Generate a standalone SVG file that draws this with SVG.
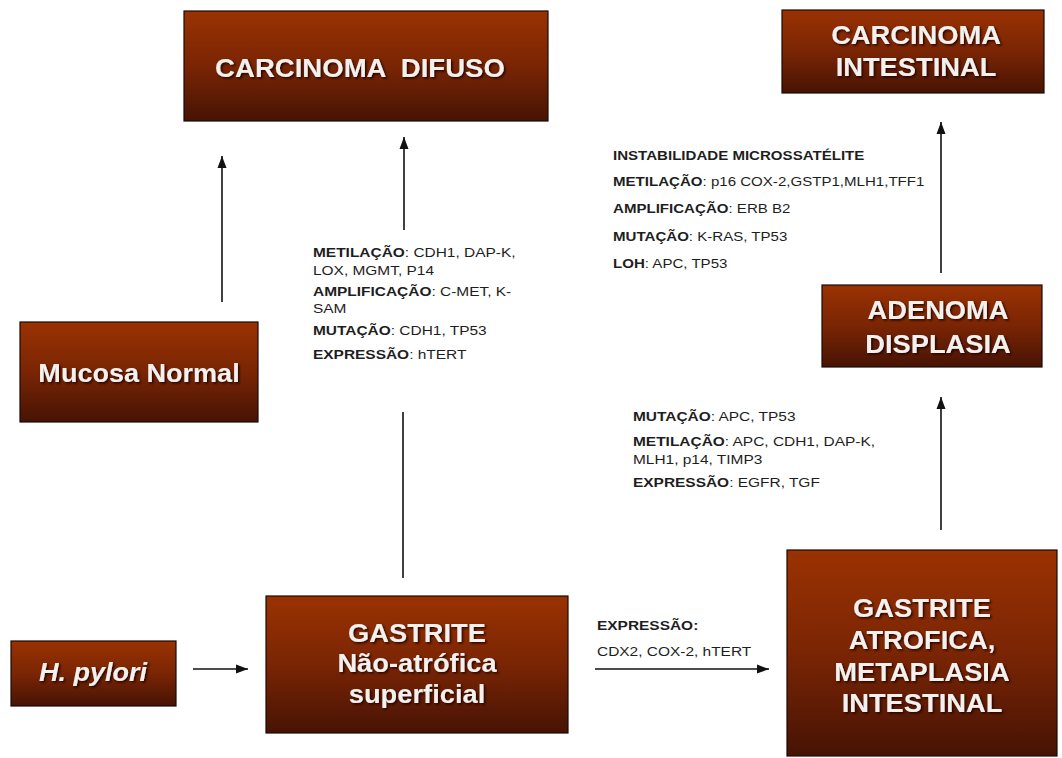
<svg xmlns="http://www.w3.org/2000/svg" width="1062" height="758" viewBox="0 0 1062 758">
<defs>
<linearGradient id="boxg" x1="0" y1="0" x2="0" y2="1">
<stop offset="0" stop-color="#9a3202"/>
<stop offset="0.5" stop-color="#7a2504"/>
<stop offset="1" stop-color="#471304"/>
</linearGradient>
<filter id="sh" x="-10%" y="-30%" width="120%" height="160%">
<feDropShadow dx="1.5" dy="1.5" stdDeviation="0.8" flood-color="#1a0500" flood-opacity="0.9"/>
</filter>
<marker id="ah" markerWidth="13" markerHeight="12" refX="12" refY="5.5" orient="auto" markerUnits="userSpaceOnUse">
<path d="M0,1 L12,5.5 L0,10 Z" fill="#111"/>
</marker>
<style>
.box{fill:url(#boxg);stroke:#1a0a05;stroke-width:1.2}
.t{font-family:"Liberation Sans",Arial,sans-serif;font-weight:bold;font-size:26px;fill:#f4f0ee;text-anchor:middle;filter:url(#sh)}
.b{font-family:"Liberation Sans",Arial,sans-serif;font-size:13px;fill:#1e1e1e}
.k{font-weight:bold}
.c{stroke:#111;stroke-width:1.6;fill:none;marker-end:url(#ah)}
.cn{stroke:#111;stroke-width:1.6;fill:none}
</style>
</defs>
<rect width="1062" height="758" fill="#ffffff"/>

<g id="carcinoma-difuso">
<rect class="box" x="184" y="11" width="364" height="110"/>
<text class="t" style="white-space:pre" xml:space="preserve" transform="translate(360,77) scale(1.06,1)">CARCINOMA  DIFUSO</text>
</g>

<g id="carcinoma-intestinal">
<rect class="box" x="782" y="10" width="262" height="83"/>
<text class="t" transform="translate(916,44) scale(1.05,1)">CARCINOMA</text>
<text class="t" transform="translate(916,76) scale(1.05,1)">INTESTINAL</text>
</g>

<g id="mucosa-normal">
<rect class="box" x="20" y="322" width="238" height="100"/>
<text class="t" transform="translate(139,382) scale(1.04,1)">Mucosa Normal</text>
</g>

<g id="adenoma-displasia">
<rect class="box" x="822" y="285" width="220" height="82"/>
<text class="t" transform="translate(938,319) scale(1.05,1)">ADENOMA</text>
<text class="t" transform="translate(938,353) scale(1.05,1)">DISPLASIA</text>
</g>

<g id="h-pylori">
<rect class="box" x="11" y="641" width="165" height="65"/>
<text class="t" font-style="italic" transform="translate(93,681) scale(1.04,1)">H. pylori</text>
</g>

<g id="gastrite-nao-atrofica">
<rect class="box" x="266" y="596" width="302" height="137"/>
<text class="t" transform="translate(417,642) scale(1.05,1)">GASTRITE</text>
<text class="t" transform="translate(417,672) scale(1.05,1)">Não-atrófica</text>
<text class="t" transform="translate(417,703) scale(1.05,1)">superficial</text>
</g>

<g id="gastrite-atrofica">
<rect class="box" x="787" y="550" width="270" height="206"/>
<text class="t" transform="translate(922,617) scale(1.05,1)">GASTRITE</text>
<text class="t" transform="translate(922,649) scale(1.05,1)">ATROFICA,</text>
<text class="t" transform="translate(922,681) scale(1.05,1)">METAPLASIA</text>
<text class="t" transform="translate(922,712) scale(1.05,1)">INTESTINAL</text>
</g>

<g id="connectors">
<line class="c" x1="222" y1="302" x2="222" y2="156"/>
<line class="c" x1="404" y1="230" x2="404" y2="137"/>
<line class="cn" x1="403" y1="578" x2="403" y2="412"/>
<line class="c" x1="941" y1="273" x2="941" y2="122"/>
<line class="c" x1="941" y1="530" x2="941" y2="397"/>
<line class="c" x1="193" y1="669" x2="248" y2="669"/>
<line class="c" x1="595" y1="669" x2="769" y2="669"/>
</g>

<g id="label-difuso">
<text class="b" transform="translate(313,257) scale(1.19,1)"><tspan class="k">METILAÇÃO</tspan>: CDH1, DAP-K,</text>
<text class="b" transform="translate(313,274.5) scale(1.19,1)">LOX, MGMT, P14</text>
<text class="b" transform="translate(313,296) scale(1.19,1)"><tspan class="k">AMPLIFICAÇÃO</tspan>: C-MET, K-</text>
<text class="b" transform="translate(313,313) scale(1.19,1)">SAM</text>
<text class="b" transform="translate(313,335) scale(1.19,1)"><tspan class="k">MUTAÇÃO</tspan>: CDH1, TP53</text>
<text class="b" transform="translate(313,358.5) scale(1.19,1)"><tspan class="k">EXPRESSÃO</tspan>: hTERT</text>
</g>

<g id="label-intestinal">
<text class="b k" transform="translate(613,159.5) scale(1.16,1)">INSTABILIDADE MICROSSATÉLITE</text>
<text class="b" transform="translate(613,186) scale(1.16,1)"><tspan class="k">METILAÇÃO</tspan>: p16 COX-2,GSTP1,MLH1,TFF1</text>
<text class="b" transform="translate(613,213) scale(1.16,1)"><tspan class="k">AMPLIFICAÇÃO</tspan>: ERB B2</text>
<text class="b" transform="translate(613,241) scale(1.16,1)"><tspan class="k">MUTAÇÃO</tspan>: K-RAS, TP53</text>
<text class="b" transform="translate(613,268) scale(1.16,1)"><tspan class="k">LOH</tspan>: APC, TP53</text>
</g>

<g id="label-adenoma">
<text class="b" transform="translate(633,421) scale(1.19,1)"><tspan class="k">MUTAÇÃO</tspan>: APC, TP53</text>
<text class="b" transform="translate(633,446) scale(1.19,1)"><tspan class="k">METILAÇÃO</tspan>: APC, CDH1, DAP-K,</text>
<text class="b" transform="translate(633,464) scale(1.19,1)">MLH1, p14, TIMP3</text>
<text class="b" transform="translate(633,487) scale(1.19,1)"><tspan class="k">EXPRESSÃO</tspan>: EGFR, TGF</text>
</g>

<g id="label-metaplasia">
<text class="b k" transform="translate(597,629.5) scale(1.19,1)">EXPRESSÃO:</text>
<text class="b" transform="translate(597,656) scale(1.19,1)">CDX2, COX-2, hTERT</text>
</g>
</svg>
